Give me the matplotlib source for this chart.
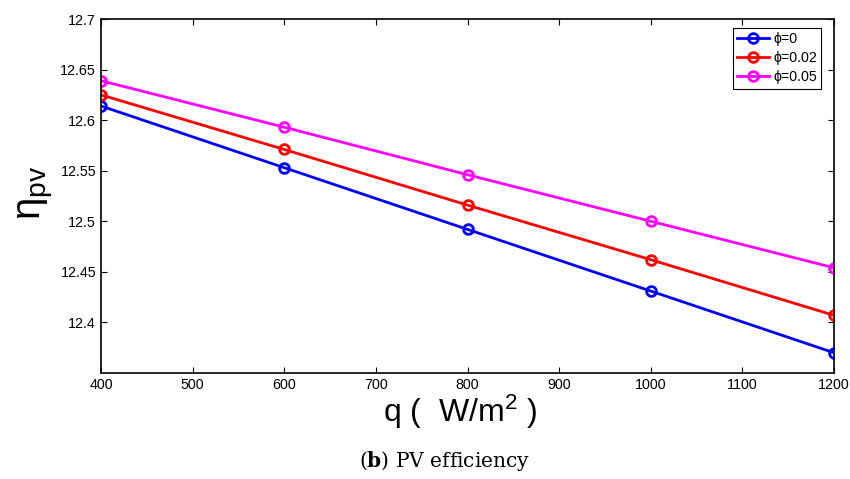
import matplotlib
matplotlib.use("Agg")
import matplotlib.pyplot as plt

plt.rcParams['font.family'] = ['Liberation Sans', 'DejaVu Sans']
plt.rcParams['mathtext.fontset'] = 'custom'
plt.rcParams['mathtext.rm'] = 'Liberation Sans'
plt.rcParams['mathtext.it'] = 'Liberation Sans'
plt.rcParams['mathtext.bf'] = 'DejaVu Serif:bold'

# irradiance (W/m^2) and PV efficiency for each volume fraction
q = [400, 600, 800, 1000, 1200]
eta_phi0 = [12.614, 12.553, 12.492, 12.431, 12.370]
eta_phi002 = [12.625, 12.571, 12.516, 12.462, 12.407]
eta_phi005 = [12.639, 12.593, 12.546, 12.500, 12.454]

series = [
    (eta_phi0, 'blue', 'ϕ=0'),
    (eta_phi002, 'red', 'ϕ=0.02'),
    (eta_phi005, 'magenta', 'ϕ=0.05'),
]

fig = plt.figure(figsize=(8.5, 4.79), dpi=100)
ax = fig.add_axes([0.1188, 0.2213, 0.8624, 0.739])

for ys, col, lab in series:
    ax.plot(q, ys, color=col, lw=2, marker='o', ms=7, mfc='none',
            mec=col, mew=2, label=lab)

ax.set_xlim(400, 1200)
ax.set_ylim(12.35, 12.7)
ax.set_xticks(range(400, 1201, 100))
ax.set_yticks([12.4, 12.45, 12.5, 12.55, 12.6, 12.65, 12.7])
ax.set_yticklabels(['12.4', '12.45', '12.5', '12.55', '12.6', '12.65', '12.7'])
ax.tick_params(direction='in', top=True, right=True, labelsize=10.3, length=4, width=0.8)
for s in ax.spines.values():
    s.set_linewidth(1.2)

ax.set_xlabel('q (  W/m$^{2}$ )', fontsize=23)
ax.xaxis.set_label_coords(0.49, -0.057)
ax.set_ylabel(r'$\eta_{pv}$', fontsize=29)
ax.yaxis.set_label_coords(-0.063, 0.51)

leg = ax.legend(loc='upper right', fontsize=10.3, fancybox=False, framealpha=1,
                edgecolor='black', handlelength=2.2, handletextpad=0.3,
                borderpad=0.3, labelspacing=0.35, bbox_to_anchor=(0.9925, 0.995))
leg.get_frame().set_linewidth(0.8)

fig.text(0.523, 0.037, r'($\mathbf{b}$) PV efficiency', ha='center', va='center',
         fontsize=14.5, family='DejaVu Serif')

fig.savefig('out.png', dpi=100)
